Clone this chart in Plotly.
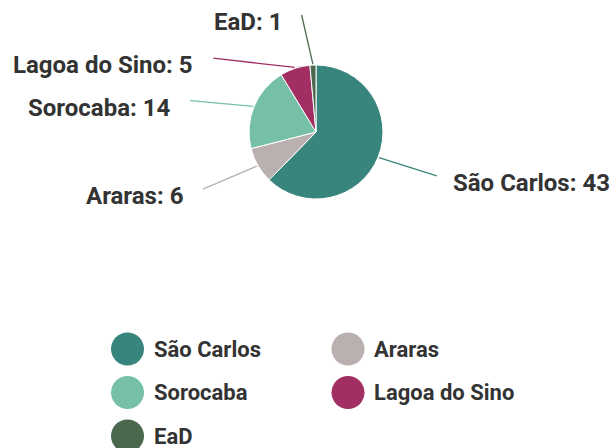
import math
import plotly.graph_objects as go

# ---- data ----
categories = ["São Carlos", "Araras", "Sorocaba", "Lagoa do Sino", "EaD"]
values = [43, 6, 14, 5, 1]
colors = ["#37857C", "#BBB0B0", "#76C0A8", "#A12F63", "#4B684E"]

# ---- layout (pixels) ----
W, H = 614, 448
CX, CY, R = 316, 132, 67
# label placement nudges: angle shift (deg) from slice middle, distance from centre (px)
label_angle_shift = [-2.2, 3.2, -8.2, -36.0, -4.4]
label_radius = [128.5, 126.7, 129.6, 126.4, 117.9]
legend_cols = [127.5, 348.0]
legend_rows = [349.0, 392.5, 436.0]
TEXT = "#333333"
FONT = "Roboto"
FS_LABEL = 24
FS_LEGEND = 22


def px(x):
    return x / W


def py(y):
    return 1 - y / H


fig = go.Figure()
fig.add_trace(go.Pie(
    labels=categories, values=values, sort=False, direction="clockwise",
    rotation=0, textinfo="none", hoverinfo="label+value",
    marker=dict(colors=colors, line=dict(color="white", width=1)),
    domain=dict(x=[px(CX - R), px(CX + R)], y=[py(CY + R), py(CY - R)]),
    showlegend=False,
))

shapes = []
annotations = []
total = sum(values)
cum = 0.0
for i, (cat, v) in enumerate(zip(categories, values)):
    mid = (cum + v / 2) / total * 360.0
    cum += v
    a = math.radians(mid)
    sx, sy = CX + (R + 1) * math.sin(a), CY - (R + 1) * math.cos(a)
    b = math.radians(mid + label_angle_shift[i])
    ex, ey = CX + label_radius[i] * math.sin(b), CY - label_radius[i] * math.cos(b)
    shapes.append(dict(type="line", xref="paper", yref="paper",
                       x0=px(sx), y0=py(sy), x1=px(ex), y1=py(ey),
                       line=dict(color=colors[i], width=1.3), layer="above"))
    right = math.sin(b) > 0
    annotations.append(dict(
        xref="paper", yref="paper",
        x=px(ex + 14) if right else px(ex - 18), y=py(ey + 7),
        xanchor="left" if right else "right", yanchor="middle",
        text=f"{cat}: {v}", showarrow=False,
        font=dict(family=FONT, size=FS_LABEL, color=TEXT, weight=700)))

# custom legend with large circles
for i, cat in enumerate(categories):
    lx = legend_cols[i % 2]
    ly = legend_rows[i // 2]
    shapes.append(dict(type="circle", xref="paper", yref="paper",
                       x0=px(lx - 16.5), x1=px(lx + 16.5),
                       y0=py(ly + 16.5), y1=py(ly - 16.5),
                       fillcolor=colors[i], line=dict(width=0)))
    annotations.append(dict(
        xref="paper", yref="paper", x=px(lx + 24), y=py(ly),
        xanchor="left", yanchor="middle", text=cat, showarrow=False,
        font=dict(family=FONT, size=FS_LEGEND, color=TEXT, weight=700)))

fig.update_layout(
    width=W, height=H, margin=dict(l=0, r=0, t=0, b=0),
    paper_bgcolor="white", plot_bgcolor="white",
    shapes=shapes, annotations=annotations, showlegend=False,
    font=dict(family=FONT),
)
fig.write_html("out.html", config={"displayModeBar": False},
               post_script="document.body.style.margin='0px';document.body.style.overflow='hidden';")
